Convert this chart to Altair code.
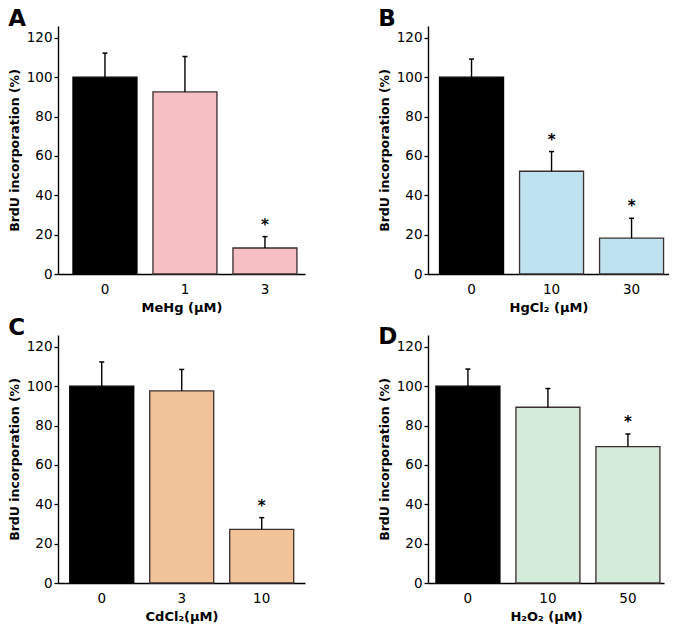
import altair as alt
import pandas as pd

FONT = "DejaVu Sans"

letters = ["A", "B", "C", "D"]
x_titles = ["MeHg (µM)", "HgCl₂ (µM)", "CdCl₂(µM)", "H₂O₂ (µM)"]
doses = [["0", "1", "3"], ["0", "10", "30"], ["0", "3", "10"], ["0", "10", "50"]]
means = [[100, 92.5, 13.2], [100, 52.2, 18.2], [100, 97.6, 27.2], [100, 89.3, 69.3]]
errors = [[12.2, 18.0, 5.8], [9.2, 10.0, 10.1], [12.3, 10.9, 6.0], [8.7, 9.5, 6.4]]
significant = [[0, 0, 1], [0, 1, 1], [0, 0, 1], [0, 0, 1]]
colors = ["#F5BFC4", "#BFE2F0", "#F0C498", "#D5EBD9"]

y_ticks = [0, 20, 40, 60, 80, 100, 120]

# per-panel layout tweaks (plot width, outer padding, align, title offset)
widths = [247, 241, 247, 236]
pad_outer = [0.144, 0.106, 0.144, 0.075]
aligns = [0.65, 0.68, 0.51, 0.66]
title_offsets = [-5, -5, -5, -14]


def panel(i):
    df = pd.DataFrame({
        "dose": doses[i],
        "mean": means[i],
        "err": errors[i],
        "sig": significant[i],
    })
    base = alt.Chart(df).transform_calculate(top="datum.mean + datum.err")
    x = alt.X(
        "dose:N",
        sort=doses[i],
        scale=alt.Scale(paddingInner=0.2, paddingOuter=pad_outer[i], align=aligns[i]),
        axis=alt.Axis(
            title=x_titles[i], labelAngle=0, ticks=False, labelPadding=8,
            labelFontSize=13.5, labelFont=FONT, labelColor="black",
            titleFont=FONT, titleFontSize=13, titleFontWeight="bold",
            titleColor="black", titlePadding=6,
            domainColor="black", domainWidth=1.4,
        ),
    )
    yscale = alt.Scale(domain=[0, 126], nice=False, zero=True)
    y = alt.Y(
        "mean:Q",
        scale=yscale,
        axis=alt.Axis(
            title="BrdU incorporation (%)", values=y_ticks, grid=False,
            tickSize=4, tickColor="black", tickWidth=1.3,
            domainColor="black", domainWidth=1.4,
            labelFontSize=13.5, labelFont=FONT, labelColor="black", labelPadding=2,
            titleFont=FONT, titleFontSize=12.5, titleFontWeight="bold",
            titleColor="black", titlePadding=5,
        ),
    )
    fill_scale = alt.Scale(domain=doses[i], range=["black", colors[i], colors[i]])
    stroke_scale = alt.Scale(domain=doses[i], range=["black", "#3a2e2e", "#3a2e2e"])
    bars = base.mark_bar(strokeWidth=1.3).encode(
        x=x, y=y,
        fill=alt.Fill("dose:N", scale=fill_scale, legend=None),
        stroke=alt.Stroke("dose:N", scale=stroke_scale, legend=None),
    )
    rules = base.mark_rule(color="black", strokeWidth=1.4).encode(
        x=alt.X("dose:N", sort=doses[i]),
        y=alt.Y("mean:Q"),
        y2="top:Q",
    )
    caps = base.mark_tick(color="black", size=5, thickness=1.5, opacity=1).encode(
        x=alt.X("dose:N", sort=doses[i]),
        y=alt.Y("top:Q"),
    )
    stars = base.transform_filter("datum.sig == 1").mark_text(
        text="*", font=FONT, fontSize=15, fontWeight="bold", color="black",
        baseline="alphabetic", dy=-7,
    ).encode(
        x=alt.X("dose:N", sort=doses[i]),
        y=alt.Y("top:Q"),
    )
    return alt.layer(bars, rules, caps, stars).properties(
        width=widths[i], height=248,
        title=alt.TitleParams(
            letters[i], anchor="start", fontSize=23, font=FONT,
            fontWeight="bold", color="black", offset=title_offsets[i],
        ),
    )


chart = alt.concat(
    *[panel(i) for i in range(4)], columns=2,
    spacing={"row": 2, "column": 73},
).resolve_scale(fill="independent", stroke="independent")

chart = chart.properties(
    padding={"left": 0, "top": 0, "right": 0, "bottom": 0}
).configure_view(stroke=None)

chart.save("out.html", embed_options={"renderer": "svg", "actions": False})
